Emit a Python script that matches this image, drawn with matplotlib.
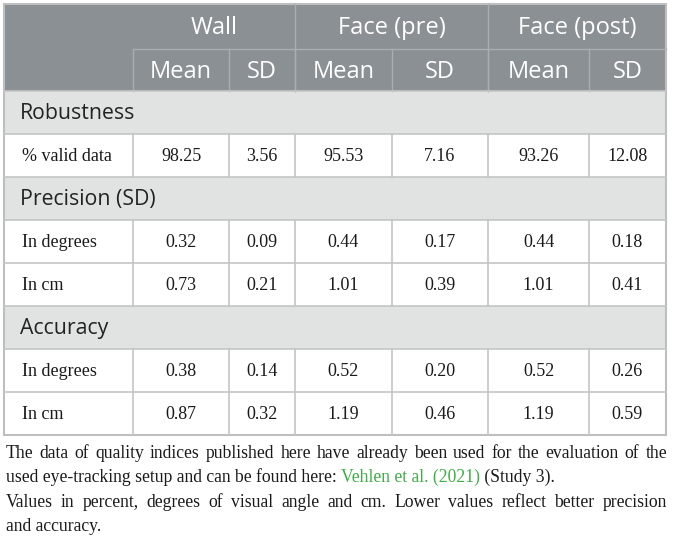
import matplotlib
matplotlib.use("Agg")
import matplotlib.pyplot as plt
from matplotlib.patches import Rectangle

# table content
groups = ["Wall", "Face (pre)", "Face (post)"]
subheads = ["Mean", "SD"]
sections = ["Robustness", "Precision (SD)", "Accuracy"]
row_labels = [["% valid data"], ["In degrees", "In cm"], ["In degrees", "In cm"]]
values = [
    [["98.25", "3.56", "95.53", "7.16", "93.26", "12.08"]],
    [["0.32", "0.09", "0.44", "0.17", "0.44", "0.18"],
     ["0.73", "0.21", "1.01", "0.39", "1.01", "0.41"]],
    [["0.38", "0.14", "0.52", "0.20", "0.52", "0.26"],
     ["0.87", "0.32", "1.19", "0.46", "1.19", "0.59"]],
]
note1 = ("The data of quality indices published here have already been used for the evaluation of the",
         "used eye-tracking setup and can be found here: ", "Vehlen et al. (2021)", " (Study 3).")
note2 = ("Values in percent, degrees of visual angle and cm. Lower values reflect better precision",
         "and accuracy.")

# layout (pixels)
W, H = 673, 541
col_x = [4, 133, 229, 295, 392, 488, 589, 666]
top, h1, h2, rh = 4, 49, 91, 43
head_bg = "#8a9094"
head_line = "#a9aeb1"
sec_bg = "#e1e3e3"
grid = "#c4c6c6"
sans = "Open Sans"
serif = "Liberation Serif"

fig = plt.figure(figsize=(W / 100, H / 100), dpi=100)
ax = fig.add_axes([0, 0, 1, 1])
ax.set_xlim(0, W)
ax.set_ylim(H, 0)
ax.axis("off")

# header
ax.add_patch(Rectangle((col_x[0], top), col_x[-1] - col_x[0], h2 - top, color=head_bg, lw=0))
ax.plot([col_x[1], col_x[-1]], [h1, h1], color=head_line, lw=1)
for i, g in enumerate(groups):
    x0, x1 = col_x[1 + 2 * i], col_x[3 + 2 * i]
    ax.text((x0 + x1) / 2, (top + h1) / 2 + 1, g, ha="center", va="center",
            color="white", fontsize=17, family=sans)
    if i > 0:
        ax.plot([x0, x0], [top, h2], color=head_line, lw=1)
    for j, s in enumerate(subheads):
        a, b = col_x[1 + 2 * i + j], col_x[2 + 2 * i + j]
        ax.text((a + b) / 2, (h1 + h2) / 2 + 2, s, ha="center", va="center",
                color="white", fontsize=17, family=sans)
        ax.plot([a, a], [h1, h2], color=head_line, lw=1)

# body
y = h2
for sec, labels, vals in zip(sections, row_labels, values):
    ax.add_patch(Rectangle((col_x[0], y), col_x[-1] - col_x[0], rh, color=sec_bg, lw=0))
    ax.text(20, y + rh / 2 + 1, sec, ha="left", va="center", fontsize=15.3,
            family=sans, color="#222222")
    ax.plot([col_x[0], col_x[-1]], [y, y], color=grid, lw=1.2)
    y += rh
    for lab, row in zip(labels, vals):
        ax.plot([col_x[0], col_x[-1]], [y, y], color=grid, lw=1.2)
        ax.text(22, y + rh / 2 + 1, lab, ha="left", va="center", fontsize=13,
                family=serif, color="#1a1a1a")
        for k, v in enumerate(row):
            a, b = col_x[k + 1], col_x[k + 2]
            ax.text((a + b) / 2, y + rh / 2 + 1, v, ha="center", va="center",
                    fontsize=13, family=serif, color="#1a1a1a")
        for xv in col_x[1:-1]:
            ax.plot([xv, xv], [y, y + rh], color=grid, lw=1.2)
        y += rh
bottom = y
ax.add_patch(Rectangle((col_x[0], top), col_x[-1] - col_x[0], bottom - top,
                       fill=False, edgecolor="#bdbfbf", lw=1.5))

# footnotes
renderer = fig.canvas.get_renderer()
fs = 12.7
left, right = 6, 667


def width(s):
    t = ax.text(0, 0, s, fontsize=fs, family=serif)
    w = t.get_window_extent(renderer).width
    t.remove()
    return w


def justified(line, yy):
    words = line.split(" ")
    ws = [width(w) for w in words]
    gap = (right - left - sum(ws)) / (len(words) - 1)
    x = left
    for w, wd in zip(words, ws):
        ax.text(x, yy, w, fontsize=fs, family=serif, va="baseline", color="#1a1a1a")
        x += wd + gap


def plain(parts, yy):
    x = left
    for s, c in parts:
        ax.text(x, yy, s, fontsize=fs, family=serif, va="baseline", color=c)
        x += width(s.replace(" ", "\u00a0"))


base = [458, 482, 507, 531]
justified(note1[0], base[0])
plain([(note1[1], "#1a1a1a"), (note1[2], "#3cb043"), (note1[3], "#1a1a1a")], base[1])
justified(note2[0], base[2])
plain([(note2[1], "#1a1a1a")], base[3])

fig.savefig("out.png", dpi=100)
